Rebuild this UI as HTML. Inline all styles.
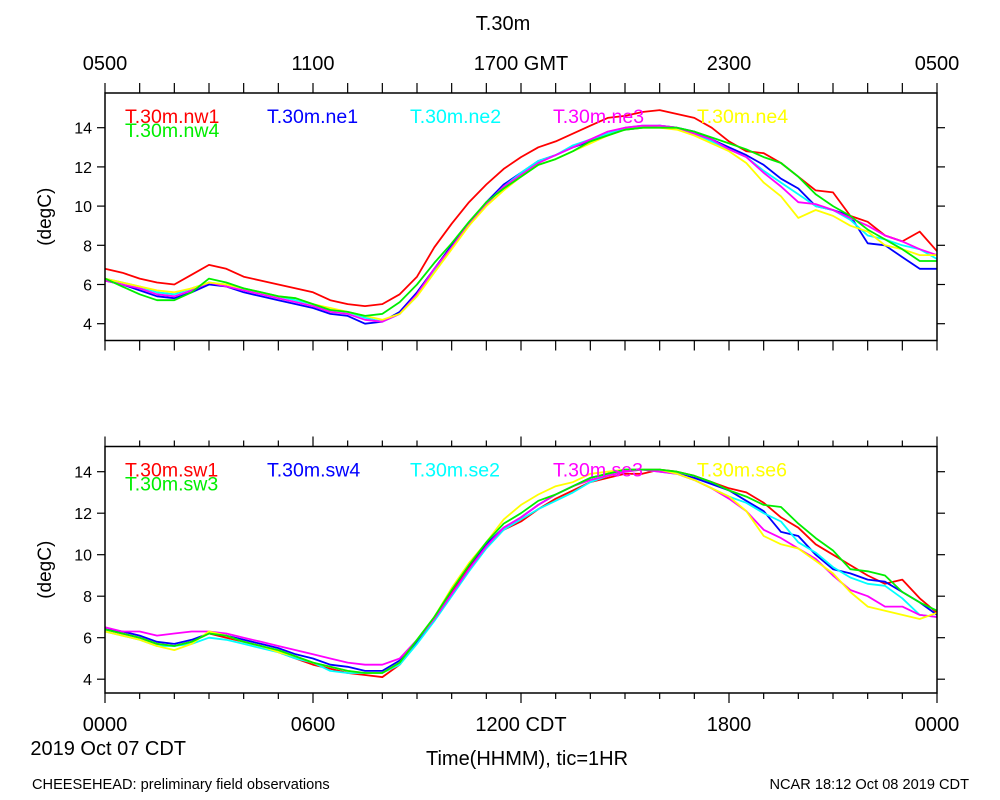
<!DOCTYPE html>
<html><head><meta charset="utf-8"><style>
body{margin:0;background:#fff;}
svg{display:block;font-family:"Liberation Sans",Arial,sans-serif;}
</style></head><body>
<svg id="chart" width="1000" height="800" viewBox="0 0 1000 800">
<rect width="1000" height="800" fill="#fff"/>
<text x="503" y="30" font-size="20" text-anchor="middle">T.30m</text>
<text x="186" y="755" font-size="20" text-anchor="end">2019 Oct 07 CDT</text>
<text x="527" y="765" font-size="20" text-anchor="middle">Time(HHMM), tic=1HR</text>
<text x="32" y="789" font-size="14.6">CHEESEHEAD: preliminary field observations</text>
<text x="969" y="789" font-size="14.6" text-anchor="end">NCAR 18:12 Oct 08 2019 CDT</text>
<g id="plots"></g>
</svg>
<script>
const hours = [0,0.5,1,1.5,2,2.5,3,3.5,4,4.5,5,5.5,6,6.5,7,7.5,8,8.5,9,9.5,10,10.5,11,11.5,12,12.5,13,13.5,14,14.5,15,15.5,16,16.5,17,17.5,18,18.5,19,19.5,20,20.5,21,21.5,22,22.5,23,23.5,24];
const yTicks = [4,6,8,10,12,14];
const topXLabels = ["0500","1100","1700 GMT","2300","0500"];
const bottomXLabels = ["0000","0600","1200 CDT","1800","0000"];
const topNames = ["T.30m.nw1","T.30m.ne1","T.30m.ne2","T.30m.ne3","T.30m.ne4","T.30m.nw4"];
const bottomNames = ["T.30m.sw1","T.30m.sw4","T.30m.se2","T.30m.se3","T.30m.se6","T.30m.sw3"];
const colors = ["#ff0000","#0000ff","#00ffff","#ff00ff","#ffff00","#00ee00"];
const nw1 = [6.8,6.6,6.3,6.1,6.0,6.5,7.0,6.8,6.4,6.2,6.0,5.8,5.6,5.2,5.0,4.9,5.0,5.5,6.4,7.9,9.1,10.2,11.1,11.9,12.5,13.0,13.3,13.7,14.1,14.5,14.6,14.8,14.9,14.7,14.5,14.0,13.3,12.8,12.7,12.2,11.5,10.8,10.7,9.5,9.2,8.5,8.2,8.7,7.7];
const ne1 = [6.2,6.0,5.7,5.4,5.3,5.6,6.0,5.9,5.6,5.4,5.2,5.0,4.8,4.5,4.4,4.0,4.1,4.6,5.6,6.8,8.0,9.1,10.2,11.1,11.7,12.3,12.6,13.0,13.3,13.7,13.9,14.0,14.1,14.0,13.8,13.4,13.0,12.6,12.1,11.4,10.9,10.0,9.8,9.5,8.1,8.0,7.4,6.8,6.8];
const ne2 = [6.3,6.1,5.9,5.6,5.5,5.8,6.1,6.0,5.8,5.6,5.4,5.2,5.0,4.7,4.6,4.3,4.1,4.5,5.4,6.7,7.9,9.0,10.1,11.0,11.7,12.3,12.6,13.1,13.4,13.7,14.0,14.1,14.1,14.0,13.7,13.3,12.9,12.5,11.8,11.2,10.6,10.0,9.8,9.3,8.5,8.3,8.0,7.8,7.3];
const ne3 = [6.2,6.0,5.8,5.5,5.4,5.7,6.1,5.9,5.7,5.5,5.3,5.1,4.9,4.6,4.5,4.2,4.1,4.5,5.5,6.8,7.9,9.1,10.1,11.0,11.6,12.2,12.6,13.0,13.4,13.8,14.0,14.1,14.1,14.0,13.7,13.4,12.9,12.5,11.7,11.0,10.2,10.1,9.8,9.4,9.0,8.5,8.2,7.8,7.5];
const ne4 = [6.3,6.1,5.9,5.7,5.6,5.8,6.1,6.0,5.8,5.6,5.4,5.3,5.0,4.8,4.6,4.4,4.2,4.5,5.4,6.6,7.8,9.0,10.0,10.8,11.5,12.1,12.4,12.8,13.2,13.6,13.9,14.0,14.0,13.9,13.6,13.2,12.8,12.2,11.2,10.5,9.4,9.8,9.5,9.0,8.7,8.0,7.8,7.5,7.5];
const nw4 = [6.3,5.9,5.5,5.2,5.2,5.6,6.3,6.1,5.8,5.6,5.4,5.3,5.0,4.7,4.6,4.4,4.5,5.1,6.0,7.1,8.1,9.2,10.2,10.9,11.5,12.1,12.4,12.8,13.3,13.6,13.9,14.0,14.0,14.0,13.8,13.5,13.2,12.9,12.5,12.2,11.5,10.6,10.0,9.5,8.8,8.3,7.8,7.2,7.2];
const sw1 = [6.4,6.2,6.0,5.7,5.6,5.8,6.2,6.0,5.8,5.6,5.3,5.0,4.7,4.5,4.3,4.2,4.1,4.7,5.8,7.0,8.2,9.4,10.5,11.2,11.6,12.2,12.7,13.1,13.5,13.7,13.9,13.9,14.1,14.0,13.8,13.5,13.2,13.0,12.5,11.8,11.3,10.5,10.0,9.5,9.0,8.6,8.8,7.9,7.2];
const sw4 = [6.4,6.3,6.1,5.8,5.7,5.9,6.2,6.1,5.9,5.7,5.5,5.2,5.0,4.7,4.6,4.4,4.4,4.9,5.8,6.9,8.1,9.3,10.5,11.3,11.8,12.4,12.9,13.3,13.7,13.9,14.1,14.1,14.1,13.9,13.7,13.4,13.1,12.6,12.1,11.1,10.9,10.0,9.3,9.1,8.8,8.7,8.2,7.7,7.1];
const se2 = [6.3,6.1,5.9,5.6,5.6,5.7,6.0,5.9,5.7,5.5,5.3,5.0,4.8,4.4,4.3,4.3,4.3,4.7,5.7,6.8,8.0,9.2,10.3,11.2,11.7,12.2,12.6,13.0,13.5,13.8,14.0,14.1,14.0,13.9,13.6,13.2,12.8,12.5,12.0,11.6,10.6,10.1,9.4,8.9,8.6,8.5,7.9,7.1,7.0];
const se3 = [6.5,6.3,6.3,6.1,6.2,6.3,6.3,6.2,6.0,5.8,5.6,5.4,5.2,5.0,4.8,4.7,4.7,5.0,5.9,6.9,8.1,9.3,10.4,11.3,11.8,12.4,12.9,13.3,13.6,13.8,14.0,14.1,14.0,13.9,13.6,13.2,12.7,12.1,11.2,10.8,10.3,9.8,9.0,8.3,8.0,7.5,7.5,7.1,7.0];
const se6 = [6.3,6.1,5.9,5.6,5.4,5.7,6.3,6.1,5.8,5.6,5.3,5.1,4.8,4.6,4.4,4.3,4.3,4.8,5.9,7.0,8.4,9.6,10.6,11.7,12.4,12.9,13.3,13.5,13.9,14.0,14.1,14.1,14.1,13.9,13.6,13.2,12.8,12.1,10.9,10.5,10.3,9.7,9.1,8.2,7.5,7.3,7.1,6.9,7.2];
const sw3 = [6.4,6.2,6.0,5.7,5.6,5.8,6.2,6.1,5.8,5.6,5.4,5.1,4.8,4.6,4.4,4.3,4.3,4.8,5.9,7.0,8.3,9.5,10.6,11.5,12.0,12.6,12.9,13.3,13.7,13.9,14.1,14.1,14.1,14.0,13.8,13.5,13.1,12.8,12.4,12.3,11.5,10.8,10.2,9.3,9.2,9.0,8.2,7.7,7.3];
const topSeries = [nw1,ne1,ne2,ne3,ne4,nw4];
const bottomSeries = [sw1,sw4,se2,se3,se6,sw3];

const NS = "http://www.w3.org/2000/svg";
const root = document.getElementById("plots");
function mk(tag, attrs, parent){
  const e = document.createElementNS(NS, tag);
  for (const k in attrs) e.setAttribute(k, attrs[k]);
  parent.appendChild(e);
  return e;
}
function panel(cfg){
  const g = mk("g", {}, root);
  
  
  const L=105, R=937, T=cfg.top, B=cfg.bottom;
  const xs = h => L + (R-L)*h/24;
  const ys = v => cfg.y14 + (14 - v)*cfg.ppu;
  cfg.series.forEach((s,i)=>{
    const d = s.map((v,j)=>(j?"L":"M")+xs(hours[j]).toFixed(1)+","+ys(v).toFixed(1)).join("");
    const p = mk("path", {d:d, fill:"none", stroke:colors[i], "stroke-width":1.8, "stroke-linejoin":"round"}, g);
    
    
  });
  const f = mk("rect", {x:L, y:T, width:R-L, height:B-T, fill:"none", stroke:"#000", "stroke-width":1.5}, g);
  
  
  for (let h=0; h<=24; h++){
    const x = xs(h);
    const major = h%6===0;
    const len = cfg.bottomLabels ? (major?10:6) : 10;
    const t1 = mk("line", {x1:x, y1:B, x2:x, y2:B+len, stroke:"#000", "stroke-width":1.2}, g);
    
    
    const t2 = mk("line", {x1:x, y1:T, x2:x, y2:T-len, stroke:"#000", "stroke-width":1.2}, g);
    
    
  }
  yTicks.forEach(v=>{
    const y = ys(v);
    const a = mk("line", {x1:L-8, y1:y, x2:L, y2:y, stroke:"#000", "stroke-width":1.2}, g);
    
    
    const b = mk("line", {x1:R, y1:y, x2:R+8, y2:y, stroke:"#000", "stroke-width":1.2}, g);
    
    
    const t = mk("text", {x:L-13, y:y+6, "font-size":16, "text-anchor":"end"}, g);
    t.textContent = v;
    
    
  });
  const yt = mk("text", {x:0, y:0, "font-size":19, "text-anchor":"middle", transform:"translate(51,"+((T+B)/2)+") rotate(-90)"}, g);
  yt.textContent = "(degC)";
  
  
  if (cfg.xLabels){
    cfg.xLabels.forEach((lab,i)=>{
      const t = mk("text", {x:xs(i*6), y:cfg.xLabelY, "font-size":20, "text-anchor":"middle"}, g);
      t.textContent = lab;
      
      
    });
  }
  const cols = [125,267,410,553,697];
  cfg.names.forEach((n,i)=>{
    const x = i<5 ? cols[i] : cols[0];
    const y = i<5 ? T+30 : T+44;
    const t = mk("text", {x:x, y:y, "font-size":19.5, fill:colors[i]}, g);
    t.textContent = n;
    
    
  });
}
panel({name:"top-panel", top:93, bottom:340.5, y14:127.7, ppu:19.6, series:topSeries, names:topNames, xLabels:topXLabels, xLabelY:70, bottomLabels:false});
panel({name:"bottom-panel", top:446.5, bottom:693, y14:471.7, ppu:20.75, series:bottomSeries, names:bottomNames, xLabels:bottomXLabels, xLabelY:731, bottomLabels:true});
</script>
</body></html>
